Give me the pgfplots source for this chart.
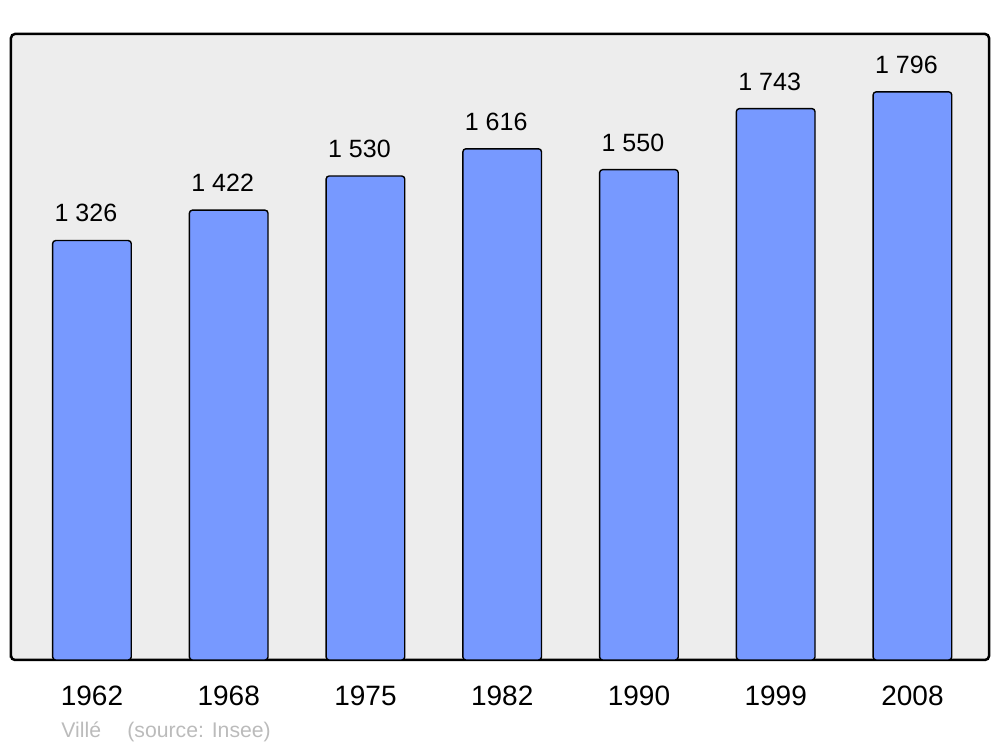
\documentclass[border=0pt]{standalone}
\usepackage{pgfplots}
\pgfplotsset{compat=1.18}
\usepackage{fontspec}
\setmainfont{Liberation Sans}
\definecolor{bg}{HTML}{EDEDED}
\definecolor{barc}{HTML}{7799FF}
\definecolor{foot}{HTML}{BBBBBB}
\begin{document}
\begin{tikzpicture}
\path[use as bounding box] (-5.5pt,-43.5pt) rectangle (494.5pt,330pt);
\begin{axis}[
  at={(0,0)}, anchor=south west,
  scale only axis, width=489pt, height=313pt,
  xmin=-0.592, xmax=6.56, ymin=0, ymax=1979,
  axis background/.style={fill=bg, rounded corners=2pt},
  axis line style={line width=1.25pt, rounded corners=2pt},
  ytick=\empty,
  xtick={0,1,2,3,4,5,6},
  xticklabels={1962,1968,1975,1982,1990,1999,2008},
  major tick length=0pt,
  xticklabel style={font=\fontsize{14pt}{16pt}\selectfont, yshift=-9.5pt},
  ybar, bar width=0.575,
  point meta=explicit symbolic,
  nodes near coords,
  nodes near coords style={font=\fontsize{12.5pt}{14pt}\selectfont, anchor=south, yshift=5.5pt, xshift=-3pt},
]
\addplot[fill=barc, draw=black, line width=0.7pt, rounded corners=1.5pt] coordinates {
  (0,1326) [1 326]
  (1,1422) [1 422]
  (2,1530) [1 530]
  (3,1616) [1 616]
  (4,1550) [1 550]
  (5,1743) [1 743]
  (6,1796) [1 796]
};
\end{axis}
\node[anchor=base west, inner sep=0, text=foot, font=\fontsize{10.6pt}{12pt}\selectfont] at (25pt,-39pt) {Villé};
\node[anchor=base west, inner sep=0, text=foot, font=\fontsize{10.6pt}{12pt}\selectfont] at (58pt,-39pt) {(source: Insee)};
\end{tikzpicture}
\end{document}
